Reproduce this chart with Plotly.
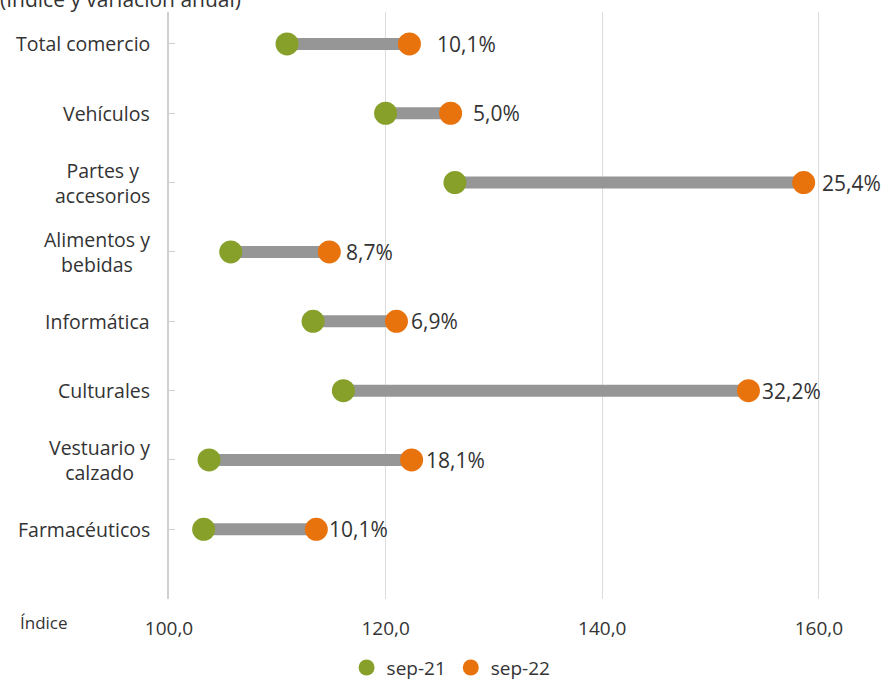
import plotly.graph_objects as go

categories = ["Total comercio", "Vehículos", "Partes y<br>accesorios", "Alimentos y<br>bebidas",
              "Informática", "Culturales", "Vestuario y<br>calzado", "Farmacéuticos"]
sep21 = [110.9, 120.0, 126.4, 105.7, 113.3, 116.1, 103.7, 103.2]
sep22 = [122.2, 126.0, 158.6, 114.8, 121.0, 153.5, 122.4, 113.6]
variation = ["10,1%", "5,0%", "25,4%", "8,7%", "6,9%", "32,2%", "18,1%", "10,1%"]
x_ticks = [100, 120, 140, 160]
x_ticklabels = ["100,0", "120,0", "140,0", "160,0"]

FONT = "Open Sans"
TXT = "#333333"
GREEN = "#86A02A"
ORANGE = "#E8720C"
GRAY = "#969696"

pos = list(range(len(categories)))

fig = go.Figure()

# connector lines
lx, ly = [], []
for i, (a, b) in enumerate(zip(sep21, sep22)):
    lx += [a, b, None]
    ly += [i, i, None]
fig.add_trace(go.Scatter(x=lx, y=ly, mode="lines", line=dict(color=GRAY, width=12),
                         showlegend=False, hoverinfo="skip"))

fig.add_trace(go.Scatter(x=sep21, y=pos, mode="markers", name="sep-21",
                         marker=dict(color=GREEN, size=23)))
fig.add_trace(go.Scatter(x=sep22, y=pos, mode="markers", name="sep-22",
                         marker=dict(color=ORANGE, size=23)))

# label offsets (pixels) to the right of the sep-22 marker
label_shift = [26, 20, 16, 15, 13, 12, 12, 11]
for i, (xv, t) in enumerate(zip(sep22, variation)):
    fig.add_annotation(x=xv, y=i, xref="x", yref="y", text=t, showarrow=False,
                       xanchor="left", yanchor="middle", xshift=label_shift[i],
                       font=dict(family=FONT, size=21, color=TXT))

# category labels (centered multi-line, right-aligned block)
for i, c in enumerate(categories):
    fig.add_annotation(x=0, y=i, xref="paper", yref="y", text=c, showarrow=False,
                       xanchor="right", yanchor="middle", align="center", xshift=-17,
                       font=dict(family=FONT, size=19.5, color=TXT))

fig.add_annotation(x=-0.243, y=1.022, xref="paper", yref="paper",
                   text="(Índice y variación anual)", showarrow=False,
                   xanchor="left", yanchor="middle",
                   font=dict(family=FONT, size=21, color=TXT))
fig.add_annotation(x=-0.215, y=-0.041, xref="paper", yref="paper",
                   text="Índice", showarrow=False, xanchor="left", yanchor="middle",
                   font=dict(family=FONT, size=17, color=TXT))

fig.update_xaxes(range=[100, 165], tickvals=x_ticks, ticktext=x_ticklabels,
                 showgrid=True, gridcolor="#DCDCDC", gridwidth=1, zeroline=False,
                 showline=False, ticks="", ticklabelstandoff=16,
                 tickfont=dict(family=FONT, size=19, color=TXT))
fig.update_yaxes(range=[8.0, -0.46], tickvals=pos, ticktext=[""] * len(pos),
                 showgrid=False, zeroline=False, showline=True, linecolor="#D0D0D0",
                 linewidth=1.5, ticks="inside", ticklen=6, tickcolor="#D0D0D0")

fig.update_layout(
    width=881, height=682,
    margin=dict(l=169, r=8, t=12, b=82),
    plot_bgcolor="white", paper_bgcolor="white",
    font=dict(family=FONT, color=TXT),
    legend=dict(orientation="h", xref="container", yref="container",
                x=0.512, y=0.021, xanchor="center", yanchor="middle",
                font=dict(family=FONT, size=19, color=TXT), itemwidth=30,
                tracegroupgap=0),
)

fig.write_html("out.html", config={"displayModeBar": False},
               post_script="document.body.style.margin='0';document.body.style.overflow='hidden';")
